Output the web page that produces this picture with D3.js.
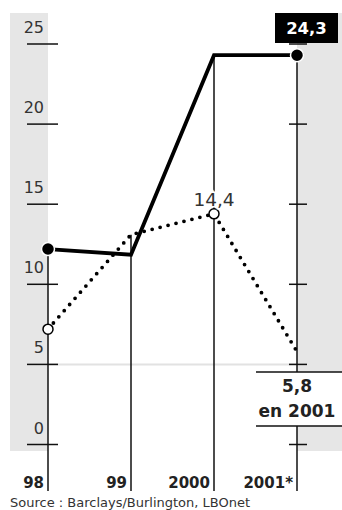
<!DOCTYPE html>
<html><head><meta charset="utf-8">
<script src="https://cdn.jsdelivr.net/npm/d3@7"></script>
<style>html,body{margin:0;padding:0;background:#fff;}svg{display:block;}</style>
</head><body>
<script>
const categories = ["98", "99", "2000", "2001*"];
const solidValues = [12.2, 11.85, 24.3, 24.3];
const dottedValues = [7.2, 13.1, 14.4, 5.8];
const yTicks = [0, 5, 10, 15, 20, 25];
const yTickLabels = ["0", "5", "10", "15", "20", "25"];
const boxLabel = "24,3";
const peakLabel = "14,4";
const endLabel = ["5,8", "en 2001"];
const sourceText = "Source : Barclays/Burlington, LBOnet";

const W = 342, H = 510;
const svg = d3.select("body").append("svg").attr("width", W).attr("height", H);
const font = "DejaVu Sans, sans-serif";

const x = d3.scalePoint().domain(categories).range([48, 297]);
const y = d3.scaleLinear().domain([0, 25]).range([444.5, 44]);
const bottomY = 491;

// grey bands
svg.append("rect").attr("x", 10).attr("y", 13).attr("width", x(categories[0]) - 10).attr("height", 438).attr("fill", "#e6e6e6");
svg.append("rect").attr("x", x(categories[3])).attr("y", 13).attr("width", W - x(categories[3])).attr("height", 438).attr("fill", "#e6e6e6");

// light line at 5
svg.append("line").attr("x1", x(categories[0])).attr("x2", x(categories[3]))
  .attr("y1", y(5)).attr("y2", y(5)).attr("stroke", "#e2e2e2").attr("stroke-width", 2);

// left ticks & labels
const gl = svg.append("g");
gl.selectAll("line.tk").data(yTicks).join("line").attr("class", "tk")
  .attr("x1", 27).attr("x2", 58).attr("y1", d => y(d)).attr("y2", d => y(d))
  .attr("stroke", "#111").attr("stroke-width", 1.5);
gl.selectAll("text").data(yTicks).join("text")
  .attr("x", 44).attr("y", d => y(d) - 11).attr("text-anchor", "end")
  .attr("font-family", font).attr("font-size", 16).attr("fill", "#333")
  .text((d, i) => yTickLabels[i]);

// right ticks
svg.append("g").selectAll("line").data(yTicks).join("line")
  .attr("x1", x(categories[3]) - 8).attr("x2", x(categories[3]) + 10)
  .attr("y1", d => y(d)).attr("y2", d => y(d))
  .attr("stroke", "#111").attr("stroke-width", 1.5);

// vertical lines
svg.append("g").selectAll("line").data(categories).join("line")
  .attr("x1", d => x(d)).attr("x2", d => x(d))
  .attr("y1", (d, i) => y(Math.max(solidValues[i], dottedValues[i])))
  .attr("y2", bottomY).attr("stroke", "#111").attr("stroke-width", 1.5);

// end label box
const bx = 256, by1 = 372, by2 = 426;
svg.append("rect").attr("x", bx).attr("y", by1).attr("width", W - bx).attr("height", by2 - by1).attr("fill", "#fff");
svg.append("line").attr("x1", bx).attr("x2", W).attr("y1", by1).attr("y2", by1).attr("stroke", "#111").attr("stroke-width", 1.5);
svg.append("line").attr("x1", bx).attr("x2", W).attr("y1", by2).attr("y2", by2).attr("stroke", "#111").attr("stroke-width", 1.5);
svg.append("text").attr("x", 297).attr("y", 392).attr("text-anchor", "middle")
  .attr("font-family", font).attr("font-weight", "bold").attr("font-size", 17).attr("fill", "#222").text(endLabel[0]);
svg.append("text").attr("x", 297).attr("y", 417).attr("text-anchor", "middle")
  .attr("font-family", font).attr("font-weight", "bold").attr("font-size", 17).attr("fill", "#222").text(endLabel[1]);

// lines
const line = d3.line().x((d, i) => x(categories[i])).y(d => y(d));
svg.append("path").datum(dottedValues).attr("d", line).attr("fill", "none")
  .attr("stroke", "#000").attr("stroke-width", 3.8).attr("stroke-linecap", "round")
  .attr("stroke-dasharray", "0 8.2");
svg.append("path").datum(solidValues).attr("d", line).attr("fill", "none")
  .attr("stroke", "#000").attr("stroke-width", 3.8).attr("stroke-linejoin", "miter");

// markers
svg.append("circle").attr("cx", x(categories[0])).attr("cy", y(solidValues[0])).attr("r", 6.5)
  .attr("fill", "#000").attr("stroke", "#fff").attr("stroke-width", 1.5);
svg.append("circle").attr("cx", x(categories[3])).attr("cy", y(solidValues[3])).attr("r", 6.5)
  .attr("fill", "#000").attr("stroke", "#fff").attr("stroke-width", 1.5);
svg.append("circle").attr("cx", x(categories[0])).attr("cy", y(dottedValues[0])).attr("r", 5)
  .attr("fill", "#fff").attr("stroke", "#000").attr("stroke-width", 1.5);
svg.append("circle").attr("cx", x(categories[2])).attr("cy", y(dottedValues[2])).attr("r", 5)
  .attr("fill", "#fff").attr("stroke", "#000").attr("stroke-width", 1.5);

// peak label
svg.append("text").attr("x", x(categories[2])).attr("y", y(dottedValues[2]) - 8).attr("text-anchor", "middle")
  .attr("font-family", font).attr("font-size", 18.5).attr("fill", "#333")
  .attr("stroke", "#fff").attr("stroke-width", 3).attr("paint-order", "stroke").text(peakLabel);

// black box label
svg.append("rect").attr("x", 275).attr("y", 13).attr("width", 63).attr("height", 30).attr("fill", "#000");
svg.append("text").attr("x", 306.5).attr("y", 34).attr("text-anchor", "middle")
  .attr("font-family", font).attr("font-weight", "bold").attr("font-size", 16.5).attr("fill", "#fff").text(boxLabel);

// x labels
svg.append("g").selectAll("text").data(categories).join("text")
  .attr("x", d => x(d) - 4).attr("y", 488).attr("text-anchor", "end")
  .attr("font-family", font).attr("font-weight", "bold").attr("font-size", 15).attr("fill", "#222")
  .text(d => d);

// source
svg.append("text").attr("x", 10).attr("y", 507).attr("font-family", font).attr("font-size", 13)
  .attr("fill", "#333").text(sourceText);
</script>
</body></html>
